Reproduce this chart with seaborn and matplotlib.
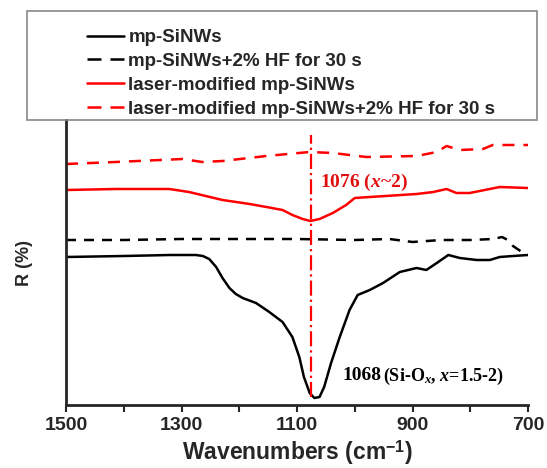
import numpy as np
import pandas as pd
import seaborn as sns
import matplotlib.pyplot as plt
from matplotlib.lines import Line2D
from matplotlib.patches import Rectangle

# wavenumber (cm-1) and offset reflectance (a.u.)
wn_black = [1500, 1400, 1320, 1275, 1263, 1252, 1240, 1229, 1217, 1206, 1194, 1171, 1148,
            1125, 1108, 1096, 1088, 1078, 1070, 1061, 1053, 1041, 1026, 1009, 995, 974,
            951, 922, 893, 876, 858, 838, 818, 789, 766, 749, 726, 700]
r_black = [148, 149, 150, 150, 149, 146, 138, 127, 117, 111, 107, 102, 93,
           83, 68, 48, 28, 12, 7, 8, 18, 42, 68, 95, 110, 115,
           122, 133, 137, 135, 142, 150, 147, 145, 145, 148, 149, 150]

wn_black_hf = [1500, 1400, 1300, 1200, 1100, 1000, 940, 900, 850, 800, 760, 745, 735, 726, 708]
r_black_hf = [165, 165, 166, 166, 166, 165, 166, 163, 165, 165, 166, 168, 165, 159, 152]

wn_red = [1500, 1414, 1321, 1287, 1258, 1229, 1182, 1153, 1125, 1108, 1090, 1077, 1061,
          1038, 1015, 1000, 974, 893, 864, 841, 824, 801, 749, 700]
r_red = [215, 216, 216, 213, 209, 205, 201, 198, 195, 190, 186, 184, 186,
         192, 200, 207, 208, 211, 213, 216, 212, 212, 218, 217]

wn_red_hf = [1500, 1414, 1298, 1264, 1229, 1153, 1078, 1038, 980, 893, 858, 841,
             818, 778, 761, 708, 700]
r_red_hf = [241, 243, 246, 243, 244, 249, 253, 252, 248, 249, 253, 259,
            255, 256, 260, 260, 260]

labels = ["mp-SiNWs", "mp-SiNWs+2% HF for 30 s",
          "laser-modified mp-SiNWs", "laser-modified mp-SiNWs+2% HF for 30 s"]
peak_red = 1076
peak_black = 1068

sns.set_style("ticks")
plt.rcParams["font.family"] = ["Liberation Sans", "DejaVu Sans"]
plt.rcParams["mathtext.fontset"] = "custom"
plt.rcParams["mathtext.rm"] = "Liberation Serif:bold"
plt.rcParams["mathtext.it"] = "Liberation Serif:italic:bold"
plt.rcParams["mathtext.bf"] = "Liberation Serif:bold"
plt.rcParams["mathtext.sf"] = "Liberation Sans:bold"

fig = plt.figure(figsize=(5.47, 4.68), dpi=100)
ax = fig.add_axes([66 / 547, 63 / 468, 462 / 547, 285 / 468])

series = [
    (wn_black, r_black, "black", "-"),
    (wn_black_hf, r_black_hf, "black", (0, (4, 3.2))),
    (wn_red, r_red, "#ff0000", "-"),
    (wn_red_hf, r_red_hf, "#ff0000", (0, (4.8, 3.6))),
]
for (x, y, c, ls), lab in zip(series, labels):
    df = pd.DataFrame({"wn": x, "R": y})
    sns.lineplot(data=df, x="wn", y="R", ax=ax, color=c, linestyle=ls, lw=1.8,
                 errorbar=None, sort=False)

ax.plot([peak_red, peak_red], [8, 270], color="#ff0000", lw=1.6,
        linestyle=(0, (6.8, 1.8, 1, 1.8)))

ax.text(1061, 223, "1076 ($x$~2)", color="#e01010", fontsize=14,
        family="Liberation Serif", fontweight="bold", ha="left", va="center")
ax.text(1021, 29, str(peak_black), color="black", fontsize=14,
        family="Liberation Serif", fontweight="bold", ha="left", va="center")
ax.text(951, 29, "(Si-O$_x$, $x$=1.5-2)", color="black", fontsize=13,
        family="Liberation Serif", fontweight="bold", ha="left", va="center")

ax.set_xlim(1500, 700)
ax.set_ylim(0, 285)
ax.set_xticks([1500, 1300, 1100, 900, 700])
ax.set_xticks([1400, 1200, 1000, 800], minor=True)
ax.set_yticks([])
ax.tick_params(axis="x", which="both", direction="out", length=5, width=1.5,
               labelsize=14, pad=4)
for t in ax.get_xticklabels():
    t.set_fontweight("bold")
for s in ["top", "right"]:
    ax.spines[s].set_visible(False)
for s in ["left", "bottom"]:
    ax.spines[s].set_linewidth(2)
ax.set_xlabel("Wavenumbers (cm$^{\\mathsf{-1}}$)", fontsize=16.5, fontweight="bold", labelpad=3)
ax.set_ylabel("R (%)", fontsize=13, fontweight="bold", labelpad=24)

# legend box sitting on top of the axes
fig.patches.append(Rectangle((27 / 547, 1 - 120 / 468), 510 / 547, 109 / 468,
                             transform=fig.transFigure, fill=False,
                             edgecolor="#888888", lw=1.2))
handles = [Line2D([], [], color=c, lw=1.8,
                  linestyle=("-" if ls == "-" else (0, (5.6, 3.6))))
           for _, _, c, ls in series]
fig.legend(handles, labels, loc="upper left", bbox_to_anchor=(87 / 547, 1 - 29 / 468),
           frameon=False, prop={"weight": "bold", "size": 13.5},
           handlelength=1.95, handletextpad=0.25, labelspacing=0.36, borderpad=0,
           borderaxespad=0)

fig.savefig("out.png", dpi=100)
